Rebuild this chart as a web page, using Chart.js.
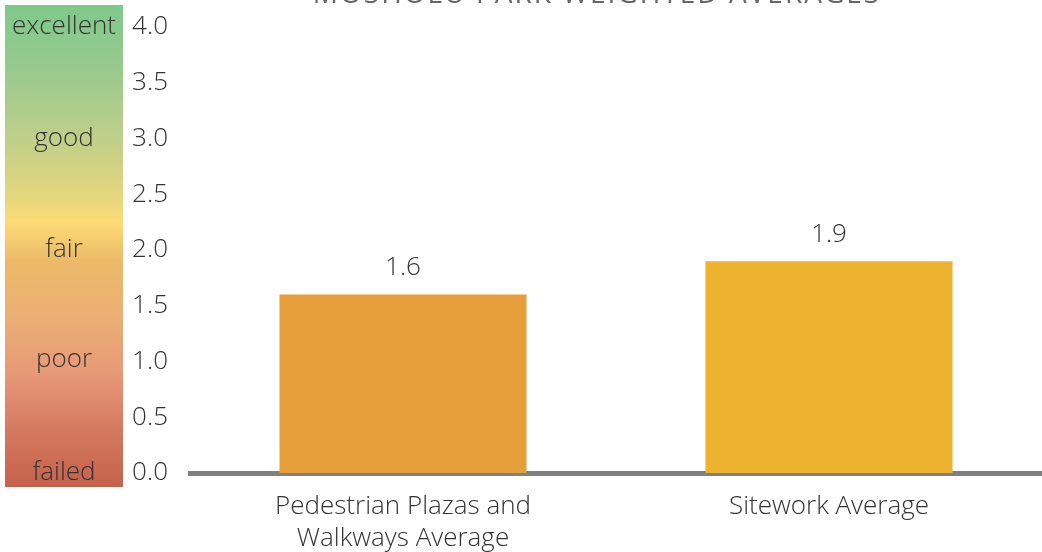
<!DOCTYPE html>
<html>
<head>
<meta charset="utf-8">
<script src="https://cdn.jsdelivr.net/npm/chart.js@4"></script>
<style>
  html, body { margin: 0; padding: 0; background: #fff; }
  #wrap { position: relative; width: 1042px; height: 552px; }
</style>
</head>
<body>
<div id="wrap"><canvas id="chart"></canvas></div>
<script>
// ---- data ----
const categories = [['Pedestrian Plazas and', 'Walkways Average'], ['Sitework Average']];
const averages = [1.6, 1.9];
const barColors = ['#e59e3a', '#edb230'];
const ratingNames = ['excellent', 'good', 'fair', 'poor', 'failed'];
const ratingValues = [4.0, 3.0, 2.0, 1.02, 0.0];
const chartTitle = 'MOSHOLU PARK WEIGHTED AVERAGES';

const FONT = '"Open Sans", sans-serif';
const TEXT = '#333333';

// gradient legend box on the left, with the rating words
const ratingBox = {
  id: 'ratingBox',
  beforeDraw(chart) {
    const { ctx, scales: { y } } = chart;
    const top = 5, bottom = 487, left = 5, right = 123;
    const g = ctx.createLinearGradient(0, top, 0, bottom);
    g.addColorStop(0.00, '#7ec98b');
    g.addColorStop(0.13, '#98c98e');
    g.addColorStop(0.27, '#bdcf8a');
    g.addColorStop(0.40, '#e6d67c');
    g.addColorStop(0.45, '#fedb77');
    g.addColorStop(0.53, '#ecba68');
    g.addColorStop(0.65, '#ebaf74');
    g.addColorStop(0.76, '#e79a78');
    g.addColorStop(0.88, '#d57a62');
    g.addColorStop(1.00, '#c6614b');
    ctx.save();
    ctx.fillStyle = g;
    ctx.fillRect(left, top, right - left, bottom - top);
    ctx.font = '300 26px ' + FONT;
    ctx.fillStyle = TEXT;
    ctx.textAlign = 'center';
    ctx.textBaseline = 'middle';
    ratingNames.forEach((name, i) => {
      ctx.fillText(name, (left + right) / 2, y.getPixelForValue(ratingValues[i]));
    });
    ctx.restore();
  }
};

// values above the bars + clipped title at the top edge
const barLabels = {
  id: 'barLabels',
  afterDatasetsDraw(chart) {
    const { ctx } = chart;
    const meta = chart.getDatasetMeta(0);
    ctx.save();
    ctx.font = '300 26px ' + FONT;
    ctx.fillStyle = TEXT;
    ctx.textAlign = 'center';
    ctx.textBaseline = 'middle';
    meta.data.forEach((bar, i) => {
      ctx.fillText(averages[i].toFixed(1), bar.x, bar.y - 27);
    });
    ctx.font = '28px ' + FONT;
    ctx.fillStyle = '#666666';
    ctx.textBaseline = 'alphabetic';
    if ('letterSpacing' in ctx) ctx.letterSpacing = '2px';
    ctx.fillText(chartTitle, 597, 3);
    ctx.restore();
  }
};

new Chart(document.getElementById('chart'), {
  type: 'bar',
  data: {
    labels: categories,
    datasets: [{
      data: averages,
      backgroundColor: barColors,
      barPercentage: 0.58,
      categoryPercentage: 1.0
    }]
  },
  options: {
    responsive: true,
    maintainAspectRatio: false,
    animation: false,
    layout: { padding: { left: 128, top: 27, right: 0, bottom: 0 } },
    plugins: {
      legend: { display: false },
      tooltip: { enabled: false }
    },
    scales: {
      x: {
        grid: { display: false, drawTicks: false },
        border: { display: true, color: '#808080', width: 5 },
        ticks: { color: TEXT, font: { family: FONT, size: 26, weight: '300', lineHeight: 1.25 }, padding: 17, maxRotation: 0 },
        afterFit(scale) { scale.height = 79; }
      },
      y: {
        min: 0,
        max: 4,
        grid: { display: false, drawTicks: false },
        border: { display: false },
        ticks: {
          stepSize: 0.5,
          color: TEXT,
          padding: 22,
          font: { family: FONT, size: 26, weight: '300' },
          callback: v => v.toFixed(1)
        },
        afterFit(scale) {
          scale.width = 62;
          scale.paddingTop = 0;
          scale.paddingBottom = 0;
        }
      }
    }
  },
  plugins: [ratingBox, barLabels]
});
</script>
</body>
</html>
